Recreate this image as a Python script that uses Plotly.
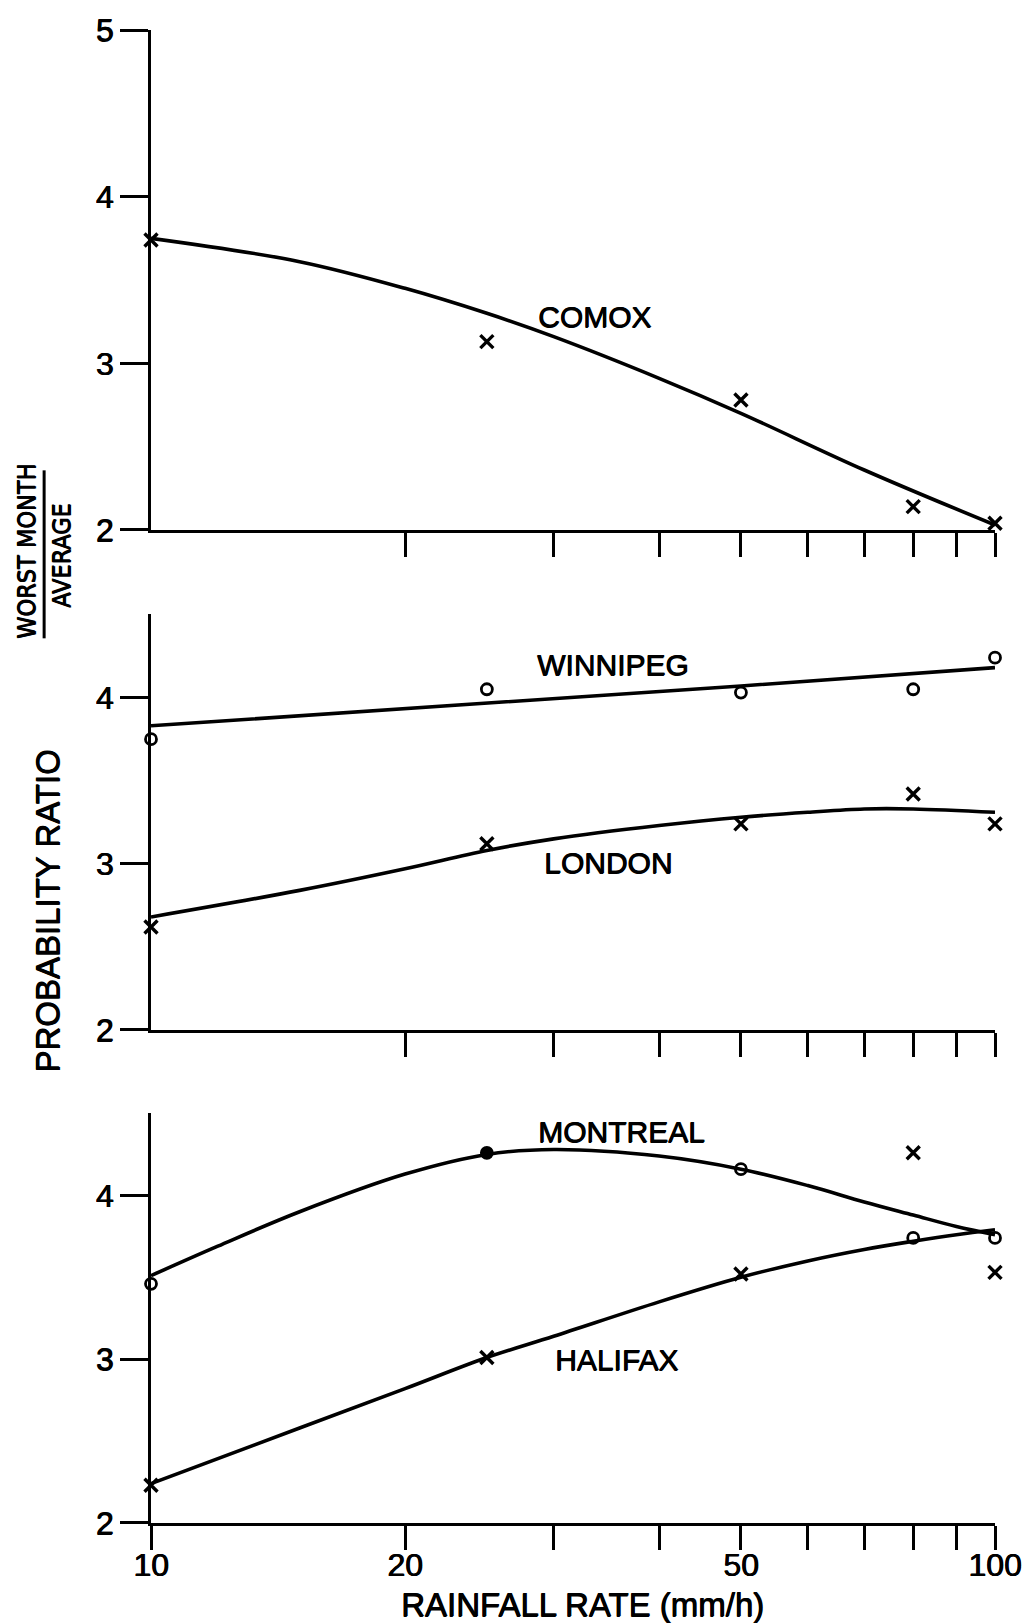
import math
import plotly.graph_objects as go

# ---------------- data ----------------
rate_pts = [10, 25, 50, 80, 100]

comox_pts = [3.74, 3.13, 2.78, 2.14, 2.04]
comox_curve_x = [10, 15, 20, 25, 30, 40, 50, 70, 100]
comox_curve_y = [3.75, 3.61, 3.45, 3.30, 3.16, 2.91, 2.70, 2.36, 2.03]

winnipeg_pts = [3.75, 4.05, 4.03, 4.05, 4.24]
winnipeg_curve_x = [10, 50, 100]
winnipeg_curve_y = [3.83, 4.07, 4.18]

london_pts = [2.62, 3.12, 3.24, 3.42, 3.24]
london_curve_x = [10, 15, 20, 25, 30, 40, 50, 60, 70, 80, 100]
london_curve_y = [2.68, 2.84, 2.97, 3.08, 3.15, 3.23, 3.28, 3.31, 3.33, 3.33, 3.31]

montreal_pts = [3.46, 4.26, 4.16, 3.74, 3.74]
montreal_symbols = ["circle-open", "circle", "circle-open", "circle-open", "circle-open"]
montreal_curve_x = [10, 12, 15, 20, 25, 30, 40, 50, 60, 70, 80, 90, 100]
montreal_curve_y = [3.51, 3.69, 3.90, 4.13, 4.25, 4.28, 4.24, 4.16, 4.06, 3.96, 3.88, 3.81, 3.76]

halifax_pts = [2.23, 3.01, 3.52, 4.26, 3.53]
halifax_curve_x = [10, 15, 20, 25, 30, 40, 50, 60, 70, 80, 90, 100]
halifax_curve_y = [2.24, 2.58, 2.82, 3.01, 3.14, 3.35, 3.50, 3.60, 3.67, 3.72, 3.76, 3.79]

x_tickvals = [10, 20, 30, 40, 50, 60, 70, 80, 90, 100]
x_ticktext = ["10", "20", "", "", "50", "", "", "", "", "100"]

# ---------------- layout geometry ----------------
W, H = 1034, 1623
ML, MR, MT, MB = 151, 38, 21, 100
PH = H - MT - MB
PW = W - ML - MR


def fy(py):
    return (H - MB - py) / PH


def fx(px):
    return (px - ML) / PW


FONT = "Liberation Sans, Arial, sans-serif"
NARROW = "Liberation Sans Narrow, DejaVu Sans Condensed, Liberation Sans, Arial, sans-serif"
BLACK = "black"
SHADOW = "0.7px 0 0 #000, 0 0.5px 0 #000"

fig = go.Figure()


def curve(x, y, ax):
    fig.add_trace(go.Scatter(x=x, y=y, mode="lines", xaxis="x" + ax, yaxis="y" + ax,
                             line=dict(color=BLACK, width=3.6, shape="spline", smoothing=1.0),
                             cliponaxis=False, showlegend=False, hoverinfo="skip"))


def xs(x, y, ax):
    fig.add_trace(go.Scatter(x=x, y=y, mode="markers", xaxis="x" + ax, yaxis="y" + ax,
                             marker=dict(symbol="x-thin-open", size=13, color=BLACK,
                                         line=dict(color=BLACK, width=3.4)),
                             cliponaxis=False, showlegend=False))


def circles(x, y, ax, symbols="circle-open"):
    fig.add_trace(go.Scatter(x=x, y=y, mode="markers", xaxis="x" + ax, yaxis="y" + ax,
                             marker=dict(symbol=symbols, size=11, color=BLACK,
                                         line=dict(color=BLACK, width=2.8)),
                             cliponaxis=False, showlegend=False))


# top panel: COMOX
curve(comox_curve_x, comox_curve_y, "")
xs(rate_pts, comox_pts, "")
# middle: WINNIPEG, LONDON
curve(winnipeg_curve_x, winnipeg_curve_y, "2")
circles(rate_pts, winnipeg_pts, "2")
curve(london_curve_x, london_curve_y, "2")
xs(rate_pts, london_pts, "2")
# bottom: MONTREAL, HALIFAX
curve(montreal_curve_x, montreal_curve_y, "3")
circles(rate_pts, montreal_pts, "3", montreal_symbols)
curve(halifax_curve_x, halifax_curve_y, "3")
xs(rate_pts, halifax_pts, "3")

tickfont = dict(family=FONT, size=32, color=BLACK, shadow=SHADOW)


def xaxis(domain_anchor, show_labels, vals, text):
    return dict(type="log", range=[1, 2], domain=[0, 1], anchor=domain_anchor,
                showline=True, linecolor=BLACK, linewidth=3.2, showgrid=False, zeroline=False,
                ticks="outside", ticklen=24, tickwidth=3, tickcolor=BLACK,
                tickvals=vals, ticktext=text, showticklabels=show_labels, tickfont=tickfont,
                ticklabelstandoff=-13)


def yaxis(dom, rng, vals, anchor):
    return dict(domain=dom, range=rng, anchor=anchor, showline=True, linecolor=BLACK,
                linewidth=3.2, showgrid=False, zeroline=False, ticks="outside", ticklen=28,
                tickwidth=3, tickcolor=BLACK, tickvals=vals, tickfont=tickfont)


fig.update_layout(
    width=W, height=H,
    margin=dict(l=ML, r=MR, t=MT, b=MB),
    paper_bgcolor="white", plot_bgcolor="white",
    font=dict(family=FONT, color=BLACK),
    showlegend=False,
    xaxis=xaxis("y", False, x_tickvals[1:], None),
    yaxis=yaxis([fy(524), fy(21)], [2, 5], [2, 3, 4, 5], "x"),
    xaxis2=xaxis("y2", False, x_tickvals[1:], None),
    yaxis2=yaxis([fy(1027), fy(609)], [2, 4.5], [2, 3, 4], "x2"),
    xaxis3=xaxis("y3", True, x_tickvals, x_ticktext),
    yaxis3=yaxis([fy(1523), fy(1111)], [2, 4.5], [2, 3, 4], "x3"),
)

labfont = dict(family=FONT, size=30, color=BLACK, shadow=SHADOW)


def label(text, xv, yv, ax):
    fig.add_annotation(text=text, x=math.log10(xv), y=yv, xref="x" + ax, yref="y" + ax,
                       showarrow=False, font=labfont, xanchor="center", yanchor="middle")


label("COMOX", 33.5, 3.28, "")
label("WINNIPEG", 35.3, 4.20, "2")
label("LONDON", 34.8, 3.01, "2")
label("MONTREAL", 36.1, 4.39, "3")
label("HALIFAX", 35.6, 3.00, "3")

# axis titles
titlefont = dict(family=FONT, size=33, color=BLACK, shadow=SHADOW)
fracfont = dict(family=NARROW, size=25, color=BLACK, shadow=SHADOW)
fig.add_annotation(text="RAINFALL RATE (mm/h)", x=fx(583), y=fy(1605), xref="paper", yref="paper",
                   showarrow=False, font=titlefont, xanchor="center", yanchor="middle")
fig.add_annotation(text="PROBABILITY RATIO", x=fx(48), y=fy(908), xref="paper", yref="paper",
                   showarrow=False, font=titlefont, textangle=-90, xanchor="center", yanchor="middle")
fig.add_annotation(text="WORST MONTH", x=fx(27), y=fy(546), xref="paper", yref="paper",
                   showarrow=False, font=fracfont, textangle=-90, xanchor="center", yanchor="middle")
fig.add_annotation(text="AVERAGE", x=fx(62), y=fy(550), xref="paper", yref="paper",
                   showarrow=False, font=fracfont, textangle=-90, xanchor="center", yanchor="middle")
fig.add_shape(type="line", xref="paper", yref="paper", x0=fx(44), x1=fx(44), y0=fy(464), y1=fy(633),
              line=dict(color=BLACK, width=3))

fig.write_html("out.html")
